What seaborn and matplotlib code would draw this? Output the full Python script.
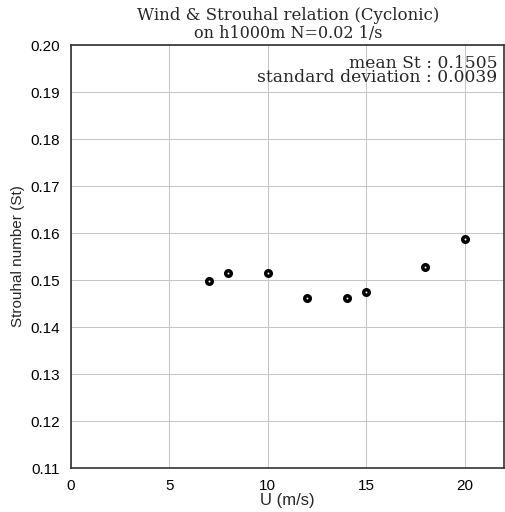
import numpy as np
import pandas as pd
import matplotlib
matplotlib.use('Agg')
import matplotlib.pyplot as plt
import seaborn as sns

# wind speed and Strouhal number values
wind = [7, 8, 10, 12, 14, 15, 18, 20]
strouhal = [0.1497, 0.1515, 0.1515, 0.1461, 0.1462, 0.1475, 0.1527, 0.1587]
x_ticks = [0, 5, 10, 15, 20]
y_ticks = [0.11, 0.12, 0.13, 0.14, 0.15, 0.16, 0.17, 0.18, 0.19, 0.20]

df = pd.DataFrame({'U': wind, 'St': strouhal})

sns.set_style('white')
plt.rcParams['font.family'] = ['Liberation Sans', 'DejaVu Sans']

fig = plt.figure(figsize=(5.05, 5.12), dpi=100)
ax = fig.add_axes([71 / 505, 1 - 468 / 512, 433 / 505, 423 / 512])

sns.scatterplot(data=df, x='U', y='St', ax=ax, s=16, marker='o',
                facecolor='white', edgecolor='black', linewidth=2.5, zorder=3)

ax.set_xlim(0, 22)
ax.set_ylim(0.11, 0.20)
ax.set_xticks(x_ticks)
ax.set_yticks(y_ticks)
ax.set_yticklabels([f'{v:.2f}' for v in y_ticks])
ax.grid(True, color='#c4c4c4', linewidth=0.7)
ax.set_axisbelow(True)
for sp in ax.spines.values():
    sp.set_color('#333333')
    sp.set_linewidth(1.2)
ax.tick_params(direction='out', length=4, width=0.8, labelsize=11, colors='black', pad=4)
ax.set_xlabel('U (m/s)', fontsize=12, labelpad=0)
ax.set_ylabel('Strouhal number (St)', fontsize=11, labelpad=4)

fig.text(0.57, 1 - 20.5 / 512, 'Wind & Strouhal relation (Cyclonic)', ha='center',
         va='baseline', fontsize=12, family='DejaVu Serif')
fig.text(0.57, 1 - 38.5 / 512, 'on h1000m N=0.02 1/s', ha='center',
         va='baseline', fontsize=11.5, family='DejaVu Serif')

mean_st = np.mean(strouhal)
std_st = np.std(strouhal)
ax.text(0.985, 1 - 10 / 423, f'mean St : {mean_st:.4f}\nstandard deviation : {std_st:.4f}',
        transform=ax.transAxes, ha='right', va='top', fontsize=12.3,
        family='DejaVu Serif', linespacing=0.8)

fig.savefig('out.png', dpi=100)
